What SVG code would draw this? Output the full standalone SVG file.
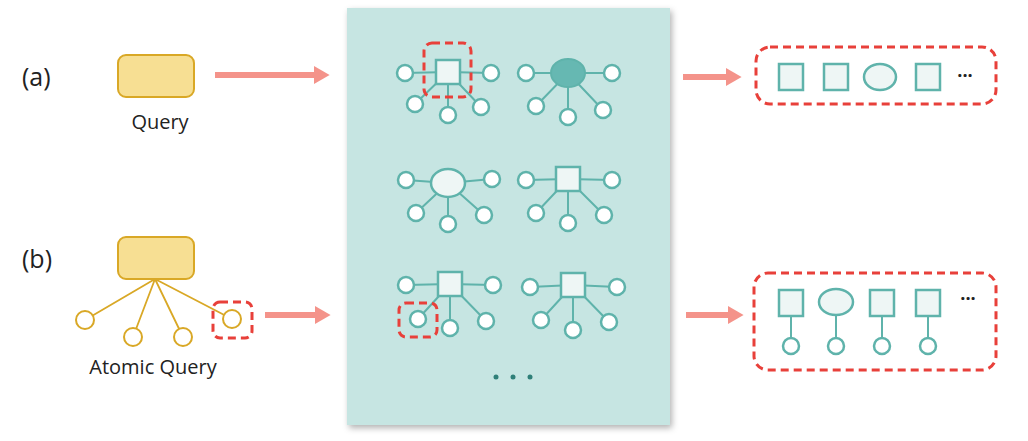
<svg xmlns="http://www.w3.org/2000/svg" width="1028" height="441" viewBox="0 0 1028 441">
<style>
.t{font-family:"Open Sans","Liberation Sans",sans-serif;fill:#222}
.e{stroke:#5fb3ab;stroke-width:2;fill:none}
.lf{fill:#fff;stroke:#5fb3ab;stroke-width:2.5}
.hub{fill:#eef6f5;stroke:#5fb3ab;stroke-width:2.5}
.hubd{fill:#66b8b2;stroke:#5fb3ab;stroke-width:2}
.rd{fill:none;stroke:#e8403a;stroke-width:3;stroke-dasharray:8 5}
.y{fill:#f7df93;stroke:#d9a826;stroke-width:2}
.yl{stroke:#d9a826;stroke-width:1.8;fill:none}
.yc{fill:#fff;stroke:#d9a826;stroke-width:2}
.ar{stroke:#f4938a;stroke-width:6;fill:none}
</style>
<defs>
<marker id="ah" markerWidth="2.6" markerHeight="3" refX="0.5" refY="1.5" orient="auto"><path d="M0,0 L2.6,1.5 L0,3 Z" fill="#f4938a"/></marker>
<filter id="sh" x="-10%" y="-10%" width="120%" height="120%"><feDropShadow dx="2" dy="3" stdDeviation="3" flood-color="#000" flood-opacity="0.3"/></filter>
</defs>
<rect width="1028" height="441" fill="#fff"/>
<g id="panel"><rect x="347" y="8" width="323" height="417" fill="#c6e5e2" filter="url(#sh)"/></g>
<g id="connectors">
<path class="ar" d="M215,75 H317" marker-end="url(#ah)"/>
<path class="ar" d="M265,315 H318" marker-end="url(#ah)"/>
<path class="ar" d="M683,77 H729" marker-end="url(#ah)"/>
<path class="ar" d="M686,315 H731" marker-end="url(#ah)"/>
<path class="yl" d="M155,279 L85,320 M155,279 L133,337 M155,279 L183,337 M155,279 L232,319"/>
<path class="e" d="M448,72 L405,73 M448,72 L491,73 M448,72 L415,104 M448,72 L448,115 M448,72 L481,107"/>
<path class="e" d="M568,73 L526,73 M568,73 L612,73 M568,73 L536,106 M568,73 L568,117 M568,73 L603,110"/>
<path class="e" d="M448,183 L406,180 M448,183 L492,179 M448,183 L416,213 M448,183 L448,224 M448,183 L484,215"/>
<path class="e" d="M568,179 L526,180 M568,179 L612,180 M568,179 L536,213 M568,179 L568,223 M568,179 L604,215"/>
<path class="e" d="M450,284 L406,285 M450,284 L493,285 M450,284 L418,319 M450,284 L450,328 M450,284 L486,321"/>
<path class="e" d="M573,285 L530,287 M573,285 L617,287 M573,285 L541,320 M573,285 L573,330 M573,285 L609,322"/>
<path class="e" d="M791,316 V346 M836,315 V346 M882,316 V346 M928,316 V346"/>
</g>
<g id="label-a"><text class="t" x="22" y="86" font-size="25">(a)</text></g>
<g id="label-b"><text class="t" x="22" y="268" font-size="25">(b)</text></g>
<g id="query"><rect class="y" x="118" y="55" width="76" height="42" rx="8"/><text class="t" x="160" y="129" font-size="20" text-anchor="middle">Query</text></g>
<g id="atomic-query">
<rect class="y" x="118" y="237" width="76" height="42" rx="8"/>
<circle class="yc" cx="85" cy="320" r="9"/><circle class="yc" cx="133" cy="337" r="9"/><circle class="yc" cx="183" cy="337" r="9"/><circle class="yc" cx="232" cy="319" r="9"/>
<rect class="rd" x="213" y="302" width="39" height="36" rx="7"/>
<text class="t" x="153" y="374" font-size="20" text-anchor="middle">Atomic Query</text>
</g>
<g id="graph1"><rect class="hub" x="436" y="60" width="24" height="24"/>
<circle class="lf" cx="405" cy="73" r="8"/><circle class="lf" cx="491" cy="73" r="8"/><circle class="lf" cx="415" cy="104" r="8"/><circle class="lf" cx="448" cy="115" r="8"/><circle class="lf" cx="481" cy="107" r="8"/>
<rect class="rd" x="424" y="43" width="47" height="54" rx="8"/></g>
<g id="graph2"><ellipse class="hubd" cx="568" cy="73" rx="17" ry="14"/>
<circle class="lf" cx="526" cy="73" r="8"/><circle class="lf" cx="612" cy="73" r="8"/><circle class="lf" cx="536" cy="106" r="8"/><circle class="lf" cx="568" cy="117" r="8"/><circle class="lf" cx="603" cy="110" r="8"/></g>
<g id="graph3"><ellipse class="hub" cx="448" cy="183" rx="17" ry="14"/>
<circle class="lf" cx="406" cy="180" r="8"/><circle class="lf" cx="492" cy="179" r="8"/><circle class="lf" cx="416" cy="213" r="8"/><circle class="lf" cx="448" cy="224" r="8"/><circle class="lf" cx="484" cy="215" r="8"/></g>
<g id="graph4"><rect class="hub" x="556" y="167" width="24" height="24"/>
<circle class="lf" cx="526" cy="180" r="8"/><circle class="lf" cx="612" cy="180" r="8"/><circle class="lf" cx="536" cy="213" r="8"/><circle class="lf" cx="568" cy="223" r="8"/><circle class="lf" cx="604" cy="215" r="8"/></g>
<g id="graph5"><rect class="hub" x="438" y="272" width="24" height="24"/>
<circle class="lf" cx="406" cy="285" r="8"/><circle class="lf" cx="493" cy="285" r="8"/><circle class="lf" cx="418" cy="319" r="8"/><circle class="lf" cx="450" cy="328" r="8"/><circle class="lf" cx="486" cy="321" r="8"/>
<rect class="rd" x="399" y="303" width="38" height="34" rx="7"/></g>
<g id="graph6"><rect class="hub" x="561" y="273" width="24" height="24"/>
<circle class="lf" cx="530" cy="287" r="8"/><circle class="lf" cx="617" cy="287" r="8"/><circle class="lf" cx="541" cy="320" r="8"/><circle class="lf" cx="573" cy="330" r="8"/><circle class="lf" cx="609" cy="322" r="8"/></g>
<g id="dots" fill="#2f7f78"><circle cx="496" cy="377" r="2.5"/><circle cx="513" cy="377" r="2.5"/><circle cx="530" cy="377" r="2.5"/></g>
<g id="result-a"><rect class="rd" x="756" y="47" width="240" height="57" rx="14"/>
<rect class="hub" x="779" y="64" width="24" height="26"/><rect class="hub" x="824" y="64" width="24" height="26"/><ellipse class="hub" cx="880" cy="77" rx="16" ry="13"/><rect class="hub" x="916" y="64" width="24" height="26"/>
<text class="t" x="965" y="82" font-size="18" text-anchor="middle" font-weight="bold">···</text></g>
<g id="result-b"><rect class="rd" x="754" y="273" width="242" height="97" rx="14"/>
<rect class="hub" x="779" y="290" width="24" height="26"/><ellipse class="hub" cx="836" cy="302" rx="17" ry="13"/><rect class="hub" x="870" y="290" width="24" height="26"/><rect class="hub" x="916" y="290" width="24" height="26"/>
<circle class="lf" cx="791" cy="346" r="8"/><circle class="lf" cx="836" cy="346" r="8"/><circle class="lf" cx="882" cy="346" r="8"/><circle class="lf" cx="928" cy="346" r="8"/>
<text class="t" x="968" y="305" font-size="18" text-anchor="middle" font-weight="bold">···</text></g>
</svg>
